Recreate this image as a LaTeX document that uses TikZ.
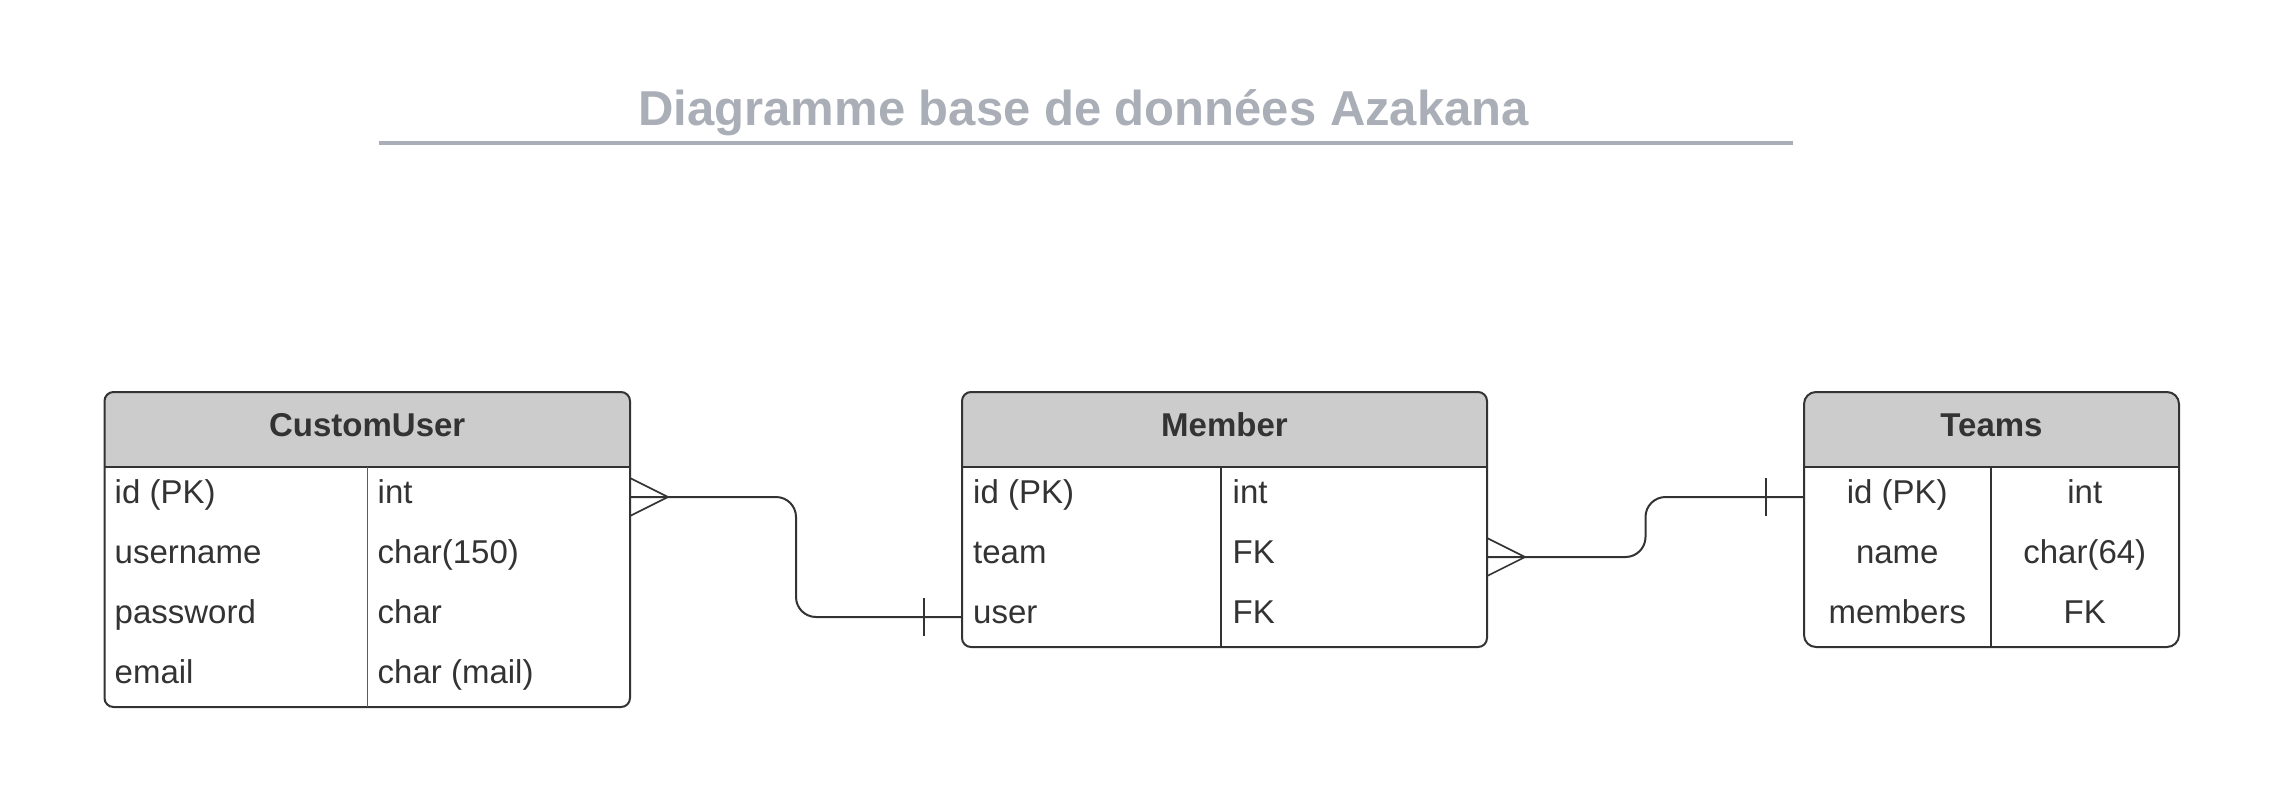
\documentclass[tikz,border=0pt]{standalone}
\usepackage{fontspec}
\setmainfont{Liberation Sans}
\usetikzlibrary{calc}
\definecolor{titlegray}{HTML}{A9AEB7}
\definecolor{ink}{HTML}{333333}
\definecolor{headfill}{HTML}{CCCCCC}
\tikzset{
  frame/.style={draw=ink, line width=2, rounded corners=#1, inner sep=0, outer sep=0},
  frame/.default=9,
  rowspot/.style={inner sep=0, outer sep=0, minimum height=60},
  headtxt/.style={anchor=base, text=ink, font=\fontsize{33}{40}\selectfont\bfseries},
  celltxt/.style={anchor=base west, text=ink, font=\fontsize{33}{40}\selectfont, inner sep=0},
  celltxtc/.style={anchor=base, text=ink, font=\fontsize{33}{40}\selectfont, inner sep=0},
  rule/.style={draw=ink, line width=2},
  thinrule/.style={draw=ink!80, line width=1},
  link/.style={draw=ink, line width=2},
  tine/.style={draw=ink, line width=1.6},
}
\begin{document}
\begin{tikzpicture}[x=1pt,y=-1pt]
\useasboundingbox[fill=white] (0,0) rectangle (2282,801);

% title
\node[anchor=base, text=titlegray, font=\fontsize{49}{59}\selectfont\bfseries, inner sep=0] (title) at (1083.7,125) {Diagramme base de données Azakana};
\coordinate (ulA) at (378.5,143);
\coordinate (ulB) at (1792.5,143);
\draw[titlegray, line width=4] (ulA) -- (ulB);

% ---------- CustomUser ----------
\fill[headfill] (104.5,467) [rounded corners=9]-- (104.5,392) -- (630,392) [sharp corners]-- (630,467) -- cycle;
\node[frame, minimum width=525.5, minimum height=315] (cu) at (367.25,549.5) {};
\draw[rule] (104.5,467) -- (630,467);
\draw[thinrule] (367.5,467) -- (367.5,707);
\node[headtxt] (cu-h) at (367.25,436.7) {CustomUser};
\foreach \i/\y in {1/497,2/557,3/617,4/677}
  \node[rowspot, minimum width=525.5] (cu-r\i) at (367.25,\y) {};
\node[celltxt] (cu-a1) at (114.5,503.3) {id (PK)};
\node[celltxt] (cu-b1) at (377.5,503.3) {int};
\node[celltxt] (cu-a2) at (114.5,563.3) {username};
\node[celltxt] (cu-b2) at (377.5,563.3) {char(150)};
\node[celltxt] (cu-a3) at (114.5,623.3) {password};
\node[celltxt] (cu-b3) at (377.5,623.3) {char};
\node[celltxt] (cu-a4) at (114.5,683.3) {email};
\node[celltxt] (cu-b4) at (377.5,683.3) {char (mail)};

% ---------- Member ----------
\fill[headfill] (962,467) [rounded corners=9]-- (962,392) -- (1487,392) [sharp corners]-- (1487,467) -- cycle;
\node[frame, minimum width=525, minimum height=255] (mem) at (1224.5,519.5) {};
\draw[rule] (962,467) -- (1487,467);
\draw[rule] (1221,467) -- (1221,647);
\node[headtxt] (mem-h) at (1224.5,436.7) {Member};
\foreach \i/\y in {1/497,2/557,3/617}
  \node[rowspot, minimum width=525] (mem-r\i) at (1224.5,\y) {};
\node[celltxt] (mem-a1) at (973,503.3) {id (PK)};
\node[celltxt] (mem-b1) at (1232.5,503.3) {int};
\node[celltxt] (mem-a2) at (973,563.3) {team};
\node[celltxt] (mem-b2) at (1232.5,563.3) {FK};
\node[celltxt] (mem-a3) at (973,623.3) {user};
\node[celltxt] (mem-b3) at (1232.5,623.3) {FK};

% ---------- Teams ----------
\fill[headfill] (1804,467) [rounded corners=12]-- (1804,392) -- (2179,392) [sharp corners]-- (2179,467) -- cycle;
\node[frame=12, minimum width=375, minimum height=255] (tm) at (1991.5,519.5) {};
\draw[rule] (1804,467) -- (2179,467);
\draw[rule] (1990.5,467) -- (1990.5,647);
\node[headtxt] (tm-h) at (1991.5,436.7) {Teams};
\foreach \i/\y in {1/497,2/557,3/617}
  \node[rowspot, minimum width=375] (tm-r\i) at (1991.5,\y) {};
\node[celltxtc] (tm-a1) at (1897.25,503.3) {id (PK)};
\node[celltxtc] (tm-b1) at (2084.75,503.3) {int};
\node[celltxtc] (tm-a2) at (1897.25,563.3) {name};
\node[celltxtc] (tm-b2) at (2084.75,563.3) {char(64)};
\node[celltxtc] (tm-a3) at (1897.25,623.3) {members};
\node[celltxtc] (tm-b3) at (2084.75,623.3) {FK};

% ---------- connectors ----------
\coordinate (mid1) at ($(cu-r1.east)!0.5!(mem-r3.west)$);
\coordinate (mid2) at ($(mem-r2.east)!0.5!(tm-r1.west)$);
% CustomUser.id  (many) -- Member.user (one)
\draw[link, rounded corners=20] (cu-r1.east) -- (mid1 |- cu-r1.east) -- (mid1 |- mem-r3.west) -- (mem-r3.west);
\draw[tine] ($(cu-r1.east)+(0,-19)$) -- ++(38,19) -- ++(-38,19);
\draw[tine] ($(mem-r3.west)+(-38,-19)$) -- ++(0,38);

% Member.team (many) -- Teams.id (one)
\draw[link, rounded corners=20] (mem-r2.east) -- (mid2 |- mem-r2.east) -- (mid2 |- tm-r1.west) -- (tm-r1.west);
\draw[tine] ($(mem-r2.east)+(0,-19)$) -- ++(38,19) -- ++(-38,19);
\draw[tine] ($(tm-r1.west)+(-38,-19)$) -- ++(0,38);
\end{tikzpicture}
\end{document}
